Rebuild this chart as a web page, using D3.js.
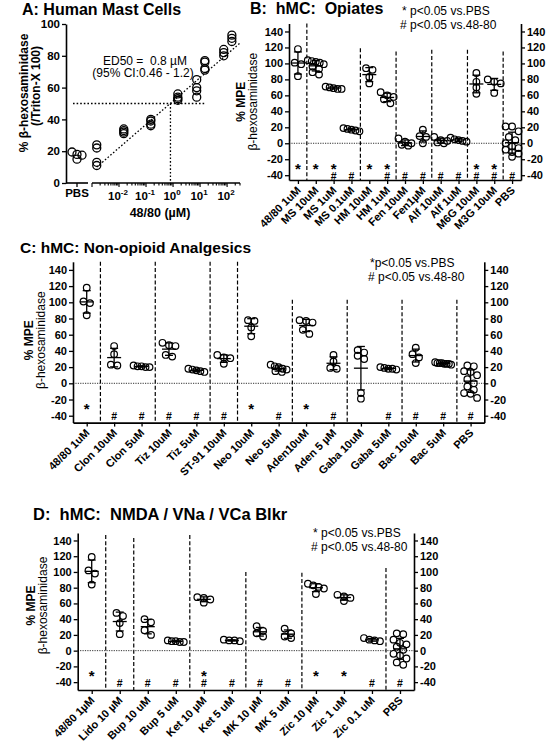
<!DOCTYPE html>
<html><head><meta charset="utf-8">
<script src="https://cdn.jsdelivr.net/npm/d3@7"></script>
<style>
body{margin:0;background:#fff}
svg text{font-family:"Liberation Sans",Arial,Helvetica,sans-serif;fill:#000}
</style></head><body>
<svg id="c" width="547" height="749" xmlns="http://www.w3.org/2000/svg"></svg>
<script>
// ---------------- DATA ----------------
// Panel A: dose response (48/80, µM)
const aConc = [0.0015, 0.015, 0.15, 1.5, 7.5, 15, 75, 150];
const aValues = [[24,22,13,11],[34,33,32,31],[40,39,37,36],[56,54,53,52],[65,60,58,54],[77,76,72,71],[84,82,80],[93,91,89]];
const aPBS = [19.5,18,17.5,15];
const aYTicks = [0,20,40,60,80,100];
const aXExp = [-2,-1,0,1,2];
const aED50 = 0.8;
const aFit = [[0.0015,10],[300,88]];

// Panel B: opiates
const bCats = ["48/80 1uM","MS 10uM","MS 1uM","MS 0.1uM","HM 10uM","HM 1uM","Fen 10uM","Fen1µM","Alf 10uM","Alf 1uM","M6G 10uM","M3G 10uM","PBS"];
const bValues = [
  [118,101,99,84],
  [104,103,102,101,99,96,93,89,86],
  [71,70,69,68,68],
  [19,18,17,16,15],
  [94,92,83,75],
  [64,60,58,55,50],
  [6,2,0,-2,-3],
  [17,9,8,0],
  [8,4,3,1,0],
  [7,5,4,3,2],
  [88,77,70,62],
  [80,77,75,63],
  [21,21,15,8,4,0,-4,-6,-8,-11,-13,-17]
];
const bStar = ["48/80 1uM","MS 10uM","MS 1uM","HM 10uM","HM 1uM","M6G 10uM","M3G 10uM"];
const bHash = ["MS 1uM","MS 0.1uM","HM 1uM","Fen 10uM","Fen1µM","Alf 10uM","Alf 1uM","M6G 10uM","M3G 10uM","PBS"];
const bBreaks = [1,4,6,8,10,12];
const bBreakTops = [150,119,115,117,117,115];

// Panel C: non-opioid analgesics
const cCats = ["48/80 1uM","Clon 10uM","Clon 5uM","Tiz 10uM","Tiz 5uM","ST-91 10uM","Neo 10uM","Neo 5uM","Aden10uM","Aden 5 µM","Gaba 10uM","Gaba 5uM","Bac 10uM","Bac 5uM","PBS"];
const cValues = [
  [118,101,99,84],
  [46,36,23,22],
  [22,21,21,20,20],
  [50,47,46,35,33],
  [18,17,16,15,14],
  [35,32,31,24],
  [78,77,69,58],
  [23,21,20,18,17,15,14],
  [78,77,75,66,61],
  [35,27,19,18],
  [41,38,34,30,-12,-19],
  [20,19,18,18,17],
  [44,36,32,25],
  [26,25,25,24,24,23,25,24],
  [22,21,15,14,10,5,0,-4,-8,-12,-13,-18]
];
const cStar = ["48/80 1uM","Neo 10uM","Aden10uM"];
const cHash = ["Clon 10uM","Clon 5uM","Tiz 10uM","Tiz 5uM","ST-91 10uM","Neo 5uM","Aden 5 µM","Gaba 5uM","Bac 10uM","Bac 5uM","PBS"];
const cBreaks = [1,3,5,6,8,10,12,14];
const cBreakTops = [150,150,150,150,103,103,103,103];

// Panel D: NMDA / VNa / VCa blockers
const dCats = ["48/80 1µM","Lido 10 µM","Bup 10 uM","Bup 5 uM","Ket 10 µM","Ket 5 uM","MK 10 µM","MK 5 uM","Zic 10 µM","Zic 1 uM","Zic 0.1 uM","PBS"];
const dValues = [
  [119,102,98,84],
  [48,44,35,21],
  [40,36,26,20],
  [13,12,12,11,11],
  [68,67,65,61],
  [14,13,13,12],
  [31,25,22,18],
  [28,22,18,16],
  [85,83,81,79,72],
  [71,69,67,63],
  [16,14,13,12],
  [22,21,14,10,8,5,1,-4,-6,-10,-15,-18]
];
const dStar = ["48/80 1µM","Ket 10 µM","Zic 10 µM","Zic 1 uM"];
const dHash = ["Lido 10 µM","Bup 10 uM","Bup 5 uM","Ket 10 µM","Ket 5 uM","MK 10 µM","MK 5 uM","Zic 0.1 uM","PBS"];
const dBreaks = [1,2,4,6,8,11];
const dBreakTops = [147,143,147,100,99,105];

const mpeTicks = [-40,-20,0,20,40,60,80,100,120,140];
const legendStar = "* p<0.05 vs.PBS";
const legendHash = "# p<0.05 vs.48-80";

// ---------------- HELPERS ----------------
const F = '"Liberation Sans", Arial, Helvetica, sans-serif';
const svg = d3.select("#c");

function text(g, x, y, s, size, weight, anchor) {
  return g.append("text").attr("x", x).attr("y", y).text(s)
    .attr("font-size", size).attr("font-weight", weight || "normal")
    .attr("text-anchor", anchor || "start").style("white-space", "pre");
}
function vtext(g, x, y, s, size, weight) {
  return g.append("text").attr("transform", `translate(${x},${y}) rotate(-90)`)
    .attr("text-anchor", "middle").attr("font-size", size)
    .attr("font-weight", weight || "normal").text(s);
}
function styleAxis(sel, size) {
  sel.attr("font-family", F).attr("font-size", size).attr("font-weight", "bold");
  sel.select(".domain").attr("stroke", "#000").attr("stroke-width", 1.6);
  sel.selectAll(".tick line").attr("stroke", "#000").attr("stroke-width", 1.3);
  sel.selectAll(".tick text").attr("fill", "#000");
}
function swarm(vals, y, rowH, maxW, sp) {
  const pts = vals.map(v => ({v, py: y(v)})).sort((a, b) => a.py - b.py);
  const rows = []; let cur = null;
  pts.forEach(p => {
    if (cur && p.py - cur[0].py < rowH) cur.push(p);
    else { cur = [p]; rows.push(cur); }
  });
  rows.forEach(r => {
    const n = r.length, s = n > 1 ? Math.min(sp, maxW / (n - 1)) : 0;
    r.forEach((p, i) => p.dx = (i - (n - 1) / 2) * s);
  });
  return pts;
}

// ---------------- PANEL A ----------------
(function () {
  const g = svg.append("g");
  const y = d3.scaleLinear().domain([0, 100]).range([183, 24]);
  const x = d3.scaleLog().domain([0.001, 300]).range([92, 240]);
  const xp = d3.scalePoint().domain(["PBS"]).range([66, 88]).padding(0.5);

  text(g, 22, 15, "A: Human Mast Cells", 16, "bold");

  const dot = "1.6,2";
  g.append("line").attr("x1", xp("PBS") - 4).attr("x2", x(15))
    .attr("y1", y(50)).attr("y2", y(50))
    .attr("stroke", "#000").attr("stroke-width", 1.3).attr("stroke-dasharray", dot);
  g.append("line").attr("x1", x(aED50)).attr("x2", x(aED50))
    .attr("y1", y(50)).attr("y2", y(0))
    .attr("stroke", "#000").attr("stroke-width", 1.3).attr("stroke-dasharray", dot);
  g.append("path").attr("d", d3.line().x(d => x(d[0])).y(d => y(d[1]))(aFit))
    .attr("fill", "none").attr("stroke", "#000").attr("stroke-width", 1.3).attr("stroke-dasharray", dot);

  aConc.forEach((c, i) => {
    aValues[i].forEach(v => {
      g.append("circle").attr("cx", x(c)).attr("cy", y(v)).attr("r", 4)
        .attr("fill", "none").attr("stroke", "#000").attr("stroke-width", 1.3);
    });
  });
  swarm(aPBS, y, 5, 10, 5).forEach(p => {
    g.append("circle").attr("cx", xp("PBS") + p.dx).attr("cy", p.py).attr("r", 4)
      .attr("fill", "none").attr("stroke", "#000").attr("stroke-width", 1.3);
  });

  const ya = g.append("g").attr("transform", "translate(66,0)")
    .call(d3.axisLeft(y).tickValues(aYTicks).tickSize(4).tickSizeOuter(0).tickPadding(2));
  styleAxis(ya, 11.5);

  g.append("line").attr("x1", 66).attr("x2", 88).attr("y1", 183).attr("y2", 183)
    .attr("stroke", "#000").attr("stroke-width", 1.6);
  g.append("line").attr("x1", xp("PBS")).attr("x2", xp("PBS")).attr("y1", 183).attr("y2", 187)
    .attr("stroke", "#000").attr("stroke-width", 1.3);
  text(g, xp("PBS"), 197, "PBS", 11.5, "bold", "middle");

  g.append("line").attr("x1", x.range()[0]).attr("x2", x.range()[1]).attr("y1", 183).attr("y2", 183)
    .attr("stroke", "#000").attr("stroke-width", 1.6);
  x.ticks().forEach(t => {
    const major = Math.abs(Math.log10(t) - Math.round(Math.log10(t))) < 1e-6;
    g.append("line").attr("x1", x(t)).attr("x2", x(t)).attr("y1", 183).attr("y2", 183 + (major ? 4 : 2.5))
      .attr("stroke", "#000").attr("stroke-width", 1.1);
  });
  aXExp.forEach(e => {
    const t = g.append("text").attr("x", x(Math.pow(10, e)) - 1).attr("y", 200)
      .attr("text-anchor", "middle").attr("font-size", 11.5).attr("font-weight", "bold");
    t.append("tspan").text("10");
    t.append("tspan").attr("dy", -5).attr("font-size", 8).text(String(e));
  });
  text(g, 160, 217, "48/80 (µM)", 12.5, "bold", "middle");

  vtext(g, 28, 93, "% β-hexosaminidase", 12, "bold");
  vtext(g, 40, 86, "(/Triton-X 100)", 12, "bold");

  text(g, 145, 65, "ED50 =  0.8 µM", 12, "normal", "middle");
  text(g, 143, 77, "(95% CI:0.46 - 1.2)", 12, "normal", "middle");
})();

// ---------------- DOT PANELS ----------------
function dotPanel(o) {
  const g = svg.append("g");
  const x = d3.scalePoint().domain(o.cats).range([o.x0, o.x1]).padding(0.5);
  const y = d3.scaleLinear().domain(o.dom).range([o.yb, o.yt]);
  const step = x.step();

  o.breaks.forEach((b, i) => {
    const xx = x(o.cats[b - 1]) + step / 2;
    g.append("line").attr("x1", xx).attr("x2", xx).attr("y1", y(o.breakTops[i])).attr("y2", o.yb)
      .attr("stroke", "#000").attr("stroke-width", 1.2).attr("stroke-dasharray", "4,2.2");
  });
  g.append("line").attr("x1", o.x0).attr("x2", o.x1).attr("y1", y(0)).attr("y2", y(0))
    .attr("stroke", "#333").attr("stroke-width", 1).attr("stroke-dasharray", "1.2,1.2");

  o.cats.forEach((c, i) => {
    const vals = o.values[i], cx = x(c);
    swarm(vals, y, 5, 16, 6.5).forEach(p => {
      g.append("circle").attr("cx", cx + p.dx).attr("cy", p.py).attr("r", 3.3)
        .attr("fill", "none").attr("stroke", "#000").attr("stroke-width", 1.2);
    });
    const m = d3.mean(vals), sd = d3.deviation(vals);
    const ln = (x1, x2, y1, y2) => g.append("line").attr("x1", x1).attr("x2", x2).attr("y1", y1).attr("y2", y2)
      .attr("stroke", "#000").attr("stroke-width", 1.3);
    ln(cx - 7, cx + 7, y(m), y(m));
    ln(cx, cx, y(m + sd), y(m - sd));
    ln(cx - 4, cx + 4, y(m + sd), y(m + sd));
    ln(cx - 4, cx + 4, y(m - sd), y(m - sd));
  });

  // significance markers: one text per category (star above hash)
  o.cats.forEach(c => {
    const hasS = o.stars.includes(c), hasH = o.hashes.includes(c);
    if (!hasS && !hasH) return;
    const t = g.append("text").attr("text-anchor", "middle").attr("font-weight", "bold");
    if (hasS) t.append("tspan").attr("x", x(c)).attr("y", y(-27) + 8.7).attr("font-size", 15).text("*");
    if (hasH) t.append("tspan").attr("x", x(c)).attr("y", y(-41) + 3.8).attr("font-size", 10.5).text("#");
  });

  const fmt = d => String(d);
  const la = g.append("g").attr("transform", `translate(${o.x0},0)`)
    .call(d3.axisLeft(y).tickValues(mpeTicks).tickFormat(fmt).tickSize(4).tickSizeOuter(0).tickPadding(2));
  styleAxis(la, o.tickSize);
  const ra = g.append("g").attr("transform", `translate(${o.x1},0)`)
    .call(d3.axisRight(y).tickValues(mpeTicks).tickFormat(fmt).tickSize(4).tickSizeOuter(0).tickPadding(2));
  styleAxis(ra, o.tickSize);
  const ba = g.append("g").attr("transform", `translate(0,${o.yb})`)
    .call(d3.axisBottom(x).tickSize(4).tickSizeOuter(0));
  styleAxis(ba, 11);
  ba.selectAll(".tick text").remove();
  o.cats.forEach(c => {
    g.append("text").attr("transform", `translate(${x(c) + 3.5},${o.yb + 11}) rotate(-45)`)
      .attr("text-anchor", "end").attr("font-size", 11).attr("font-weight", "bold")
      .style("white-space", "pre").text(c);
  });

  const yc = (o.yb + o.yt) / 2 + o.labDy;
  vtext(g, o.labX, yc, "% MPE", 12, "bold");
  vtext(g, o.labX + 12, yc, "β-hexosaminidase", 12, "normal");

  text(g, o.titleX, o.titleY, o.title, o.titleSize, "bold");
  text(g, o.legX, o.legY, o.legStar, 12, "normal");
  text(g, o.legX - 2, o.legY + 13.5, legendHash, 12, "normal");
}

dotPanel({
  cats: bCats, values: bValues, stars: bStar, hashes: bHash, breaks: bBreaks, breakTops: bBreakTops,
  x0: 289, x1: 521, yb: 180, yt: 23.5, dom: [-46, 150], tickSize: 11,
  labX: 245, labDy: 0, title: "B:  hMC:  Opiates", titleX: 250, titleY: 14, titleSize: 16,
  legX: 402, legY: 15, legStar: legendStar
});
dotPanel({
  cats: cCats, values: cValues, stars: cStar, hashes: cHash, breaks: cBreaks, breakTops: cBreakTops,
  x0: 73, x1: 484.3, yb: 422.6, yt: 261.8, dom: [-48.5, 150], tickSize: 11,
  labX: 33, labDy: -2, title: "C: hMC: Non-opioid Analgesics", titleX: 20, titleY: 253, titleSize: 15.5,
  legX: 370, legY: 267, legStar: "*p<0.05 vs.PBS"
});
dotPanel({
  cats: dCats, values: dValues, stars: dStar, hashes: dHash, breaks: dBreaks, breakTops: dBreakTops,
  x0: 77.7, x1: 414, yb: 690, yt: 533, dom: [-50, 149.5], tickSize: 11,
  labX: 35, labDy: -6, title: "D:  hMC:  NMDA / VNa / VCa Blkr", titleX: 33, titleY: 520, titleSize: 16.5,
  legX: 313, legY: 537, legStar: legendStar
});
</script>
</body></html>
